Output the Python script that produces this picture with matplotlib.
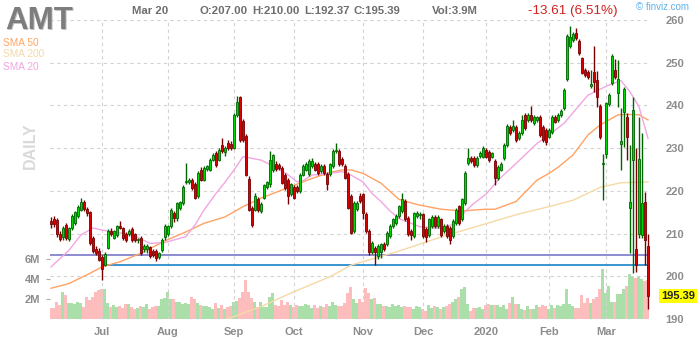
import numpy as np
import pandas as pd
import matplotlib
matplotlib.use("Agg")
import matplotlib.pyplot as plt
import matplotlib.transforms as mtransforms

plt.rcParams["font.family"] = ["Liberation Sans", "DejaVu Sans"]

W, H = 700, 340

# trading days shown (NYSE holidays removed)
HOLIDAYS = ["2019-07-04", "2019-09-02", "2019-11-28", "2019-12-25",
            "2020-01-01", "2020-01-20", "2020-02-17"]
dates = pd.bdate_range("2019-06-06", "2020-03-20", freq="C", holidays=HOLIDAYS)

opens = [
    213.0, 213.4, 213.1, 209.9, 209.1, 212.0, 208.8, 211.2, 212.4, 214.0,
    215.6, 217.3, 215.8, 215.0, 209.0, 206.5, 206.0, 204.6, 202.7, 206.7,
    210.6, 209.0, 209.6, 211.8, 211.2, 210.0, 210.0, 211.0, 209.8, 208.4,
    209.0, 206.4, 206.5, 206.8, 206.0, 206.0, 204.5, 206.2, 209.2, 209.8,
    211.8, 214.8, 213.7, 216.0, 217.2, 222.0, 222.1, 222.6, 221.5, 218.8,
    224.9, 222.6, 225.2, 225.0, 227.3, 228.9, 227.3, 230.8, 229.0, 231.2,
    231.0, 230.0, 237.8, 242.0, 236.3, 232.8, 222.8, 216.0, 215.6, 218.0,
    215.3, 218.4, 221.0, 221.5, 224.8, 226.3, 226.0, 225.4, 223.8, 222.6,
    219.2, 221.0, 221.0, 220.0, 223.8, 225.0, 223.9, 225.8, 226.2, 226.2,
    224.6, 225.8, 223.9, 223.9, 225.8, 229.3, 229.3, 227.4, 225.8, 223.9,
    218.8, 210.6, 215.7, 218.8, 219.2, 214.5, 210.6, 205.7, 206.7, 204.8,
    205.6, 207.5, 207.5, 209.4, 211.8, 212.5, 214.1, 215.3, 217.6, 213.7,
    210.6, 209.4, 214.1, 214.3, 214.5, 211.1, 209.6, 211.8, 213.9, 211.8,
    213.3, 210.6, 211.8, 211.4, 209.4, 212.5, 216.4, 213.3, 217.2, 226.5,
    227.7, 227.7, 226.1, 228.1, 228.0, 229.6, 229.2, 228.0, 227.0, 223.0,
    225.0, 227.6, 230.7, 235.0, 234.2, 235.0, 232.3, 233.5, 237.8, 236.6,
    237.8, 235.8, 236.6, 237.4, 235.0, 234.2, 232.7, 233.8, 237.4, 236.6,
    237.8, 239.3, 246.1, 253.9, 255.3, 256.9, 255.2, 251.0, 248.3, 247.9,
    244.5, 247.9, 246.0, 239.9, 226.3, 228.6, 240.3, 245.2, 248.4, 242.8,
    231.0, 238.5, 237.4, 215.9, 227.2, 206.5, 210.0, 209.6, 217.5, 207.0,
]
highs = [
    213.8, 214.0, 213.6, 210.5, 211.8, 212.4, 211.6, 214.5, 215.4, 216.6,
    218.4, 217.8, 216.3, 215.4, 209.5, 207.0, 206.6, 205.0, 205.8, 211.0,
    211.2, 210.9, 212.1, 213.0, 211.6, 210.4, 211.0, 211.5, 210.2, 209.0,
    209.5, 207.6, 207.5, 207.2, 206.4, 206.3, 205.8, 209.0, 212.2, 212.0,
    216.0, 215.4, 217.5, 217.6, 221.3, 226.5, 223.0, 223.0, 222.0, 224.6,
    225.5, 225.8, 226.0, 227.8, 228.9, 229.4, 230.0, 232.4, 230.5, 231.8,
    231.6, 238.2, 242.2, 242.2, 236.8, 233.2, 223.4, 216.5, 219.4, 218.5,
    217.4, 221.7, 222.4, 229.4, 228.6, 227.0, 226.6, 225.9, 224.2, 223.0,
    221.9, 221.4, 221.4, 224.2, 226.2, 226.8, 227.4, 227.6, 226.8, 226.7,
    226.2, 226.3, 224.4, 226.6, 229.7, 231.2, 229.8, 227.9, 226.3, 224.3,
    219.2, 217.6, 217.6, 219.4, 219.6, 215.0, 211.0, 208.3, 207.2, 207.5,
    207.9, 208.0, 210.6, 212.2, 213.7, 214.5, 216.8, 219.6, 218.0, 214.1,
    211.0, 215.1, 215.3, 215.0, 214.9, 211.5, 213.7, 214.3, 214.3, 214.3,
    213.7, 212.2, 212.2, 211.8, 213.3, 216.0, 216.8, 218.4, 224.6, 230.1,
    228.1, 228.1, 228.1, 229.3, 230.4, 230.0, 229.6, 229.2, 227.4, 226.0,
    226.8, 231.1, 235.6, 235.4, 236.6, 235.4, 233.9, 237.8, 238.2, 238.2,
    239.9, 237.8, 237.6, 237.8, 235.4, 234.6, 234.6, 237.8, 237.8, 238.2,
    239.2, 244.0, 256.7, 258.6, 257.1, 258.1, 255.6, 251.4, 248.7, 248.3,
    248.4, 253.9, 248.1, 240.3, 228.6, 240.9, 242.8, 252.0, 250.8, 250.6,
    239.5, 244.2, 238.3, 230.7, 241.9, 230.0, 237.4, 233.5, 219.8, 210.0,
]
lows = [
    211.2, 211.6, 209.2, 208.2, 208.6, 208.5, 208.3, 210.8, 212.0, 213.6,
    215.2, 215.3, 214.2, 207.4, 205.5, 204.9, 203.5, 199.2, 202.3, 206.3,
    209.4, 208.7, 209.2, 211.0, 208.6, 208.0, 209.5, 208.1, 208.0, 207.8,
    205.0, 205.8, 205.5, 204.2, 204.6, 203.6, 204.0, 205.8, 208.5, 209.4,
    211.4, 212.8, 213.0, 215.5, 216.8, 221.5, 221.6, 220.3, 218.0, 218.4,
    222.2, 222.2, 224.6, 224.6, 226.9, 225.6, 226.9, 228.9, 228.2, 229.5,
    229.6, 229.8, 237.2, 231.5, 231.4, 223.4, 215.2, 211.6, 215.2, 215.0,
    214.8, 218.0, 220.5, 221.0, 224.4, 224.7, 224.8, 221.5, 220.3, 217.0,
    218.8, 218.0, 219.6, 219.6, 223.4, 224.6, 223.5, 225.4, 224.6, 223.8,
    224.2, 223.8, 220.3, 223.5, 225.4, 228.9, 225.8, 225.8, 222.7, 215.7,
    209.8, 210.2, 215.3, 217.2, 213.5, 210.2, 205.0, 205.3, 202.7, 204.0,
    204.3, 205.9, 207.1, 209.0, 211.4, 212.1, 213.7, 214.9, 212.9, 209.4,
    208.6, 209.0, 213.7, 213.4, 209.0, 208.0, 209.2, 211.4, 211.4, 211.4,
    209.2, 210.2, 209.0, 207.5, 209.0, 212.1, 212.1, 212.9, 216.8, 226.1,
    226.5, 225.7, 225.7, 227.7, 227.6, 227.6, 226.8, 227.6, 221.4, 222.6,
    224.6, 227.2, 230.3, 233.1, 233.8, 231.5, 231.9, 233.1, 234.2, 236.2,
    236.2, 235.4, 236.2, 232.7, 231.5, 230.7, 232.3, 233.4, 235.8, 236.2,
    237.4, 238.9, 245.7, 253.5, 254.9, 255.3, 251.9, 247.3, 246.7, 246.2,
    244.1, 243.2, 239.7, 232.1, 217.8, 227.8, 239.9, 244.8, 246.2, 239.7,
    224.9, 230.3, 227.2, 205.4, 200.7, 201.0, 209.0, 209.0, 202.6, 192.37,
]
closes = [
    212.3, 212.2, 209.8, 208.8, 211.4, 209.0, 211.2, 214.1, 215.0, 216.2,
    217.5, 215.8, 214.8, 207.8, 206.0, 205.4, 203.9, 201.8, 205.3, 210.6,
    210.0, 210.5, 211.7, 211.4, 209.0, 208.5, 210.7, 208.5, 208.5, 208.7,
    205.5, 207.2, 207.0, 204.8, 205.0, 204.2, 205.5, 208.6, 211.8, 211.8,
    215.6, 213.7, 217.2, 217.3, 221.0, 222.3, 222.6, 220.7, 218.4, 224.2,
    222.6, 225.4, 225.8, 227.3, 228.5, 226.1, 229.6, 229.3, 230.0, 230.0,
    230.0, 237.8, 240.9, 232.0, 232.0, 223.8, 215.6, 212.0, 218.7, 215.6,
    216.9, 221.3, 222.0, 227.3, 228.3, 225.2, 225.3, 221.9, 220.7, 218.8,
    221.5, 218.4, 220.0, 223.8, 225.8, 226.2, 227.0, 227.0, 225.0, 224.2,
    225.8, 224.2, 221.5, 226.2, 229.3, 229.6, 226.2, 226.2, 223.1, 216.1,
    210.2, 217.2, 217.2, 217.6, 214.9, 210.6, 205.7, 207.9, 205.6, 207.1,
    207.5, 206.3, 210.2, 211.8, 213.3, 214.1, 216.4, 218.0, 213.3, 209.8,
    209.6, 214.7, 214.9, 214.6, 209.4, 209.3, 213.3, 213.9, 211.8, 213.9,
    209.6, 211.8, 209.4, 208.6, 212.9, 215.6, 212.5, 218.0, 224.2, 227.7,
    226.9, 226.1, 227.7, 228.9, 230.0, 228.0, 227.2, 228.8, 223.0, 225.6,
    226.4, 230.7, 235.2, 233.5, 235.2, 231.9, 233.5, 236.6, 234.6, 237.8,
    236.6, 237.4, 237.2, 233.1, 231.9, 231.5, 234.2, 237.4, 236.2, 237.8,
    238.8, 243.6, 256.3, 256.1, 256.7, 255.7, 252.3, 247.7, 247.1, 246.6,
    245.0, 245.6, 242.0, 232.5, 226.6, 240.5, 242.4, 251.6, 246.6, 246.1,
    231.7, 243.8, 232.5, 217.5, 238.9, 202.6, 227.4, 217.1, 208.6, 195.39,
]
# volume in millions of shares
volumes = [
    1.1, 1.1, 1.7, 1.4, 2.7, 2.4, 1.6, 1.6, 1.5, 1.7,
    1.6, 1.2, 2.2, 1.9, 2.2, 2.7, 2.9, 3.0, 3.0, 1.6,
    1.2, 1.4, 1.2, 1.3, 1.1, 1.5, 1.5, 1.2, 1.0, 1.1,
    1.3, 1.2, 1.5, 1.0, 1.2, 1.3, 1.3, 2.0, 2.1, 2.7,
    2.0, 2.0, 1.7, 1.7, 1.5, 1.6, 1.5, 2.2, 2.0, 1.6,
    1.4, 1.3, 1.3, 1.2, 1.0, 1.6, 1.1, 1.4, 1.0, 1.2,
    1.3, 1.7, 1.8, 2.1, 2.7, 3.9, 2.7, 2.1, 1.7, 1.2,
    1.7, 1.2, 1.2, 2.2, 2.6, 1.4, 1.3, 1.9, 1.4, 1.7,
    1.4, 1.2, 1.4, 1.3, 1.3, 1.5, 1.4, 1.1, 1.4, 1.1,
    1.3, 1.2, 1.5, 1.3, 1.7, 1.4, 1.3, 1.3, 1.6, 2.6,
    3.2, 2.0, 1.6, 2.0, 1.7, 3.1, 2.6, 2.0, 2.1, 1.5,
    1.5, 1.3, 1.3, 1.2, 1.5, 1.3, 1.4, 1.2, 1.3, 1.2,
    1.2, 1.0, 1.3, 1.2, 1.0, 0.8, 1.4, 1.1, 1.3, 1.2,
    1.0, 1.2, 1.3, 1.5, 1.7, 2.0, 2.2, 3.0, 3.2, 1.5,
    0.8, 1.1, 1.1, 1.2, 1.0, 1.4, 1.5, 1.4, 1.4, 1.4,
    1.2, 1.4, 1.0, 1.6, 2.2, 1.5, 1.5, 1.0, 0.9, 1.3,
    1.0, 1.0, 1.4, 1.2, 1.4, 1.3, 1.0, 1.4, 1.1, 1.4,
    1.3, 1.5, 3.0, 1.5, 1.3, 1.1, 1.1, 2.4, 1.6, 2.1,
    1.6, 2.0, 2.2, 3.0, 5.0, 2.6, 3.3, 1.7, 1.7, 2.5,
    2.5, 3.0, 3.3, 4.5, 4.2, 4.1, 4.3, 4.0, 3.8, 3.9,
]

# moving averages (bar index, value)
sma20_idx = [0, 6, 10, 14, 17, 21, 27, 33, 38, 45, 48, 51, 55, 58, 61, 64, 67,
             70, 75, 79, 82, 84, 87, 93, 97, 100, 104, 107, 110, 113, 116, 123,
             130, 135, 138, 141, 145, 149, 155, 162, 166, 171, 174, 179, 186,
             190, 193, 196, 199]
sma20_val = [202.2, 206.1, 209.7, 211.3, 210.8, 210.4, 209.7, 207.7, 207.9,
             209.3, 212.0, 215.5, 219.4, 222.0, 224.9, 228.0, 227.6, 227.2,
             225.5, 223.8, 222.1, 222.4, 223.7, 224.1, 224.5, 223.7, 222.1,
             219.4, 217.5, 215.3, 213.5, 211.6, 211.2, 212.4, 215.1, 217.1,
             219.2, 222.5, 226.4, 231.1, 233.1, 235.8, 238.3, 242.4, 244.8,
             245.8, 243.2, 239.7, 232.3]
sma50_idx = [0, 6, 13, 17, 23, 30, 38, 45, 51, 58, 64, 70, 77, 84, 87, 93, 97,
             100, 104, 110, 116, 122, 130, 137, 145, 148, 155, 162, 166, 169,
             174, 179, 183, 189, 192, 196, 199]
sma50_val = [197.2, 198.3, 200.7, 202.2, 203.4, 205.4, 208.3, 210.4, 212.4,
             213.9, 216.3, 218.3, 220.2, 222.1, 222.9, 224.3, 224.9, 224.9,
             224.1, 221.8, 218.0, 216.8, 215.7, 215.3, 215.7, 215.7, 217.5,
             222.5, 224.1, 225.5, 228.4, 233.1, 235.4, 237.8, 237.9, 237.8,
             236.6]
sma200_idx = [58, 70, 81, 93, 100, 116, 130, 143, 156, 166, 174, 183, 190, 199]
sma200_val = [189.8, 192.9, 196.4, 199.9, 202.6, 205.9, 209.2, 211.9, 214.6,
              216.3, 217.8, 220.8, 221.9, 222.1]

# trend lines drawn by finviz
resistance_level = 204.9
support_level = 202.6
support_start = 17.5

price_ticks = [190, 200, 210, 220, 230, 240, 250, 260]
vol_ticks = [2, 4, 6]
vol_labels = ["2M", "4M", "6M"]

GREY = "#8c8c8c"


def px(x):
    return x / W


def py(y):
    return 1 - y / H


def main():
    o = np.array(opens)
    h = np.array(highs)
    l = np.array(lows)
    c = np.array(closes)
    v = np.array(volumes)
    x = np.arange(len(c))
    up = c >= o

    fig = plt.figure(figsize=(W / 100, H / 100), dpi=100)
    rect = [px(50), py(319), px(600), 299 / H]

    # volume panel sits behind the price panel
    axv = fig.add_axes(rect)
    axv.set_zorder(1)
    axv.bar(x, v, width=1.0, color=np.where(up, "#aadfaa", "#fdbdbd"), linewidth=0)
    axv.set_ylim(0, 29.9)
    axv.set_xlim(-0.33, 199.67)
    axv.set_yticks(vol_ticks)
    axv.set_yticklabels(vol_labels)
    axv.tick_params(axis="y", length=3, color="#aaaaaa", pad=4, labelsize=8,
                    labelcolor=GREY)
    axv.tick_params(axis="x", bottom=False, labelbottom=False)
    for lab in axv.get_yticklabels():
        lab.set_fontweight("bold")
    for s in axv.spines.values():
        s.set_visible(False)

    ax = fig.add_axes(rect)
    ax.set_zorder(2)
    ax.patch.set_visible(False)
    ax.set_xlim(-0.33, 199.67)
    ax.set_ylim(190, 260)

    ax.grid(True, color="#d2d2d2", linestyle=(0, (3, 3)), linewidth=0.8)
    ax.set_axisbelow(True)

    ax.axhline(resistance_level, color="#8282cc", linewidth=1.3, zorder=2)
    ax.hlines(support_level, support_start, 199.67, color="#2a8ccc", linewidth=1.3, zorder=2)

    ax.plot(sma200_idx, sma200_val, color="#f6d9a4", linewidth=1.0, zorder=2)
    ax.plot(sma50_idx, sma50_val, color="#ffa263", linewidth=1.0, zorder=2)
    ax.plot(sma20_idx, sma20_val, color="#f2a6e2", linewidth=1.0, zorder=2)

    edge = np.where(up, "#006400", "#780000")
    ax.vlines(x, l, h, colors=edge, linewidth=1.0, zorder=3)
    body = np.maximum(np.abs(c - o), 0.1)
    ax.bar(x, body, bottom=np.minimum(o, c), width=0.72,
           color=np.where(up, "#00d800", "#dc0000"), edgecolor=edge,
           linewidth=0.6, zorder=4)

    # month ticks at first trading day of each month
    months = pd.Series(dates.to_period("M"))
    month_idx = [i for i in range(1, len(dates)) if months[i] != months[i - 1]]
    month_lab = ["2020" if dates[i].month == 1 else dates[i].strftime("%b")
                 for i in month_idx]
    ax.set_xticks(month_idx)
    ax.set_xticklabels(month_lab)
    ax.set_yticks(price_ticks)
    ax.yaxis.tick_right()
    ax.tick_params(axis="x", length=0, pad=6, labelsize=8, labelcolor=GREY)
    ax.tick_params(axis="y", length=0, pad=11, labelsize=8, labelcolor=GREY)
    for lab in ax.get_xticklabels() + ax.get_yticklabels():
        lab.set_fontweight("bold")
    for s in ax.spines.values():
        s.set_visible(False)

    # last price tag
    trans = mtransforms.blended_transform_factory(ax.transAxes, ax.transData)
    ax.text(px(661 - 50) / px(600), c[-1], f"{c[-1]:.2f}", transform=trans,
            ha="left", va="center", fontsize=8, fontweight="bold", color="#222222",
            bbox=dict(boxstyle="square,pad=0.2", fc="#ffff00", ec="none"), zorder=6)

    # header
    fig.text(px(6), py(30), "AMT", fontsize=22.5, fontweight="bold", color="#c4c4c4")
    fig.text(px(5), py(29), "AMT", fontsize=22.5, fontweight="bold", color="#7d7d7d")
    hdr = dict(fontsize=8.2, fontweight="bold", color="#6e6e6e", va="baseline")
    fig.text(px(132), py(14), "Mar 20", **hdr)
    fig.text(px(200), py(14), "O:207.00", **hdr)
    fig.text(px(252), py(14), "H:210.00", **hdr)
    fig.text(px(304), py(14), "L:192.37", **hdr)
    fig.text(px(353), py(14), "C:195.39", **hdr)
    fig.text(px(432), py(14), "Vol:3.9M", **hdr)
    fig.text(px(528), py(14), "-13.61 (6.51%)", fontsize=9.7, color="#d42020",
             va="baseline")
    fig.text(px(636), py(10.5), "\u00a9 finviz.com", fontsize=7, color="#5fb0e8",
             va="baseline")

    fig.text(px(3), py(45.5), "SMA 50", fontsize=7.3, color="#ffa566", va="baseline")
    fig.text(px(3), py(57), "SMA 200", fontsize=7.3, color="#f5d9a8", va="baseline")
    fig.text(px(3), py(69.5), "SMA 20", fontsize=7.3, color="#f0a6e0", va="baseline")

    fig.text(px(30), py(146), "DAILY", fontsize=11.5, fontweight="bold",
             color="#d9d9d9", rotation=90, ha="center", va="center")

    fig.savefig("out.png", dpi=100)


if __name__ == "__main__":
    main()
